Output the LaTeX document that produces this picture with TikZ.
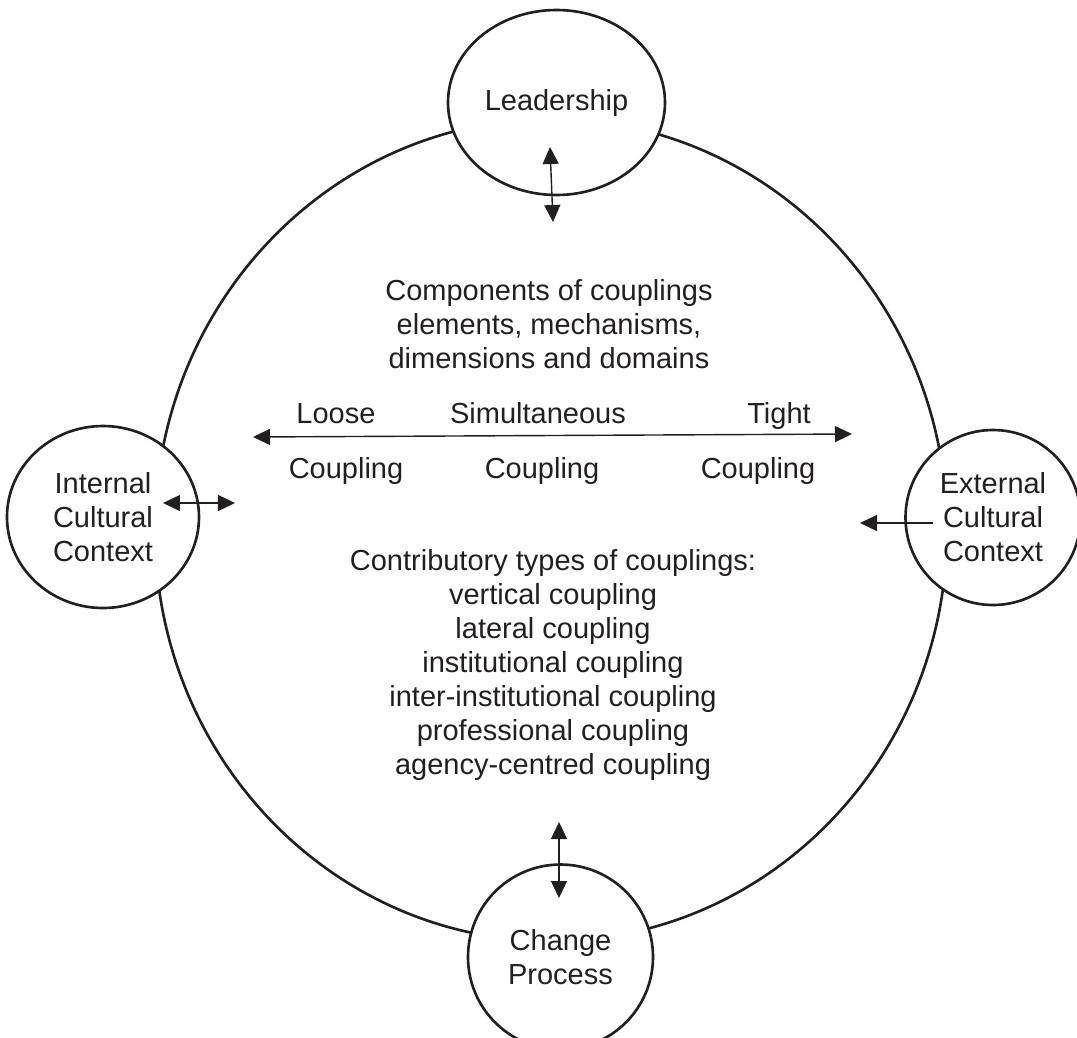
\documentclass[tikz,border=0pt]{standalone}
\usepackage{fontspec}
\setmainfont{Liberation Sans}
\usetikzlibrary{arrows.meta,shapes.geometric}
\definecolor{ink}{RGB}{35,31,32}

\begin{document}
\begin{tikzpicture}[>={Triangle[length=0.34cm,width=0.32cm]},
    every node/.style={text=ink, font=\fontsize{16.5pt}{19.4pt}\selectfont},
    factor/.style={ellipse, draw=ink, fill=white, line width=1.5pt, inner sep=0pt, align=center},
    label/.style={align=center},
    word/.style={anchor=base},
    edge/.style={<->, draw=ink, line width=0.8pt},
    oneway/.style={->, draw=ink, line width=0.8pt}]

\useasboundingbox (-11.02,-10.14) rectangle (10.52,10.6);

\draw [ink, line width=1.5pt] (0,0) ellipse (7.92cm and 8.22cm);

\node [factor, minimum width=4.34cm, minimum height=3.7cm] (leadership) at (0.11,8.55) {Leadership};
\node [factor, minimum width=3.84cm, minimum height=3.64cm] (internal) at (-8.96,0.26) {Internal\\Cultural\\Context};
\node [factor, minimum width=3.5cm, minimum height=3.5cm] (external) at (8.84,0.25) {External\\Cultural\\Context};
\node [factor, minimum width=3.7cm, minimum height=3.7cm] (change) at (0.19,-8.54) {Change\\Process};

\node [label] (components) at (-0.04,4.12) {Components of couplings\\elements, mechanisms,\\dimensions and domains};

\node [word] (loose) at (-4.3,2.14) {Loose};
\node [word] (simult) at (-0.26,2.14) {Simultaneous};
\node [word] (tight) at (4.56,2.14) {Tight};
\node [word] (loose_c) at (-4.1,1.04) {Coupling};
\node [word] (simult_c) at (-0.18,1.04) {Coupling};
\node [word] (tight_c) at (4.14,1.04) {Coupling};

\node [label] (types) at (0.04,-2.7) {Contributory types of couplings:\\vertical coupling\\lateral coupling\\institutional coupling\\inter-institutional coupling\\professional coupling\\agency-centred coupling};

\coordinate (scale_l) at (-5.96,1.86);
\coordinate (scale_r) at (6.02,1.92);
\coordinate (lead_a) at (-0.02,7.66);
\coordinate (lead_b) at (0.04,6.16);
\coordinate (int_a) at (-7.76,0.54);
\coordinate (int_b) at (-6.32,0.54);
\coordinate (ext_a) at (7.64,0.14);
\coordinate (ext_b) at (6.18,0.14);
\coordinate (chg_a) at (0.16,-5.84);
\coordinate (chg_b) at (0.16,-7.36);

\draw [edge] (scale_l) -- (scale_r);
\draw [edge] (lead_a) -- (lead_b);
\draw [edge] (int_a) -- (int_b);
\draw [oneway] (ext_a) -- (ext_b);
\draw [edge] (chg_a) -- (chg_b);

\end{tikzpicture}
\end{document}
